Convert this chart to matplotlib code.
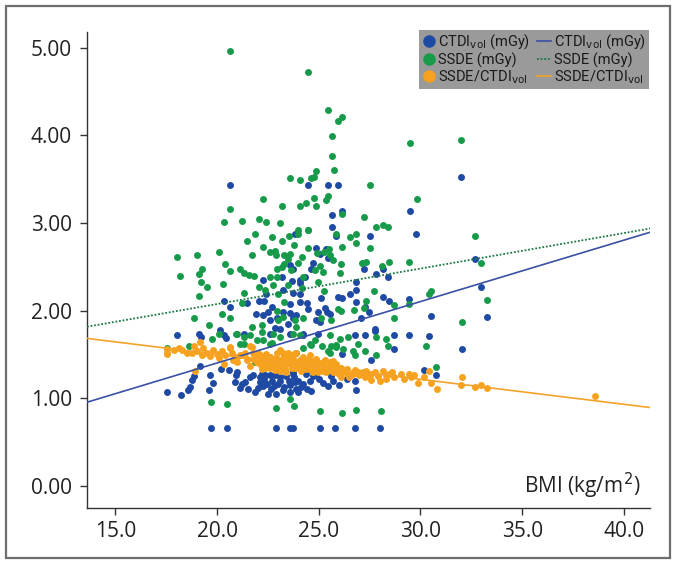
import matplotlib
matplotlib.use("Agg")
import matplotlib.pyplot as plt
from matplotlib.lines import Line2D
from matplotlib.patches import Rectangle

# ---------------- data ----------------
ctdi_pts = [
    (20.61,3.44),(24.48,3.44),(25.45,3.44),(25.94,3.44),(26.14,3.14),(25.63,3.09),(29.50,3.14),(25.63,2.95),
    (32.0,3.53),(32.7,2.59),(33.0,2.27),(33.26,1.93),(30.5,1.94),(30.4,1.71),(32.06,1.56),(30.78,1.26),
    (19.71,0.66),(20.49,0.66),(22.89,0.66),(23.57,0.66),(23.74,0.66),(25.04,0.66),(25.81,0.66),(26.8,0.66),(28.02,0.66),
    (22.27,2.35),(23.17,2.38),(22.40,2.19),(20.32,2.11),(20.61,2.04),(21.46,2.09),(22.08,2.11),(22.30,2.11),
    (23.25,2.23),(22.68,2.04),(22.52,1.98),(21.91,1.96),(22.27,1.95),(22.60,1.89),(22.93,1.91),(23.25,1.98),
    (20.12,1.78),(22.84,1.80),(23.08,1.79),
    (23.82,2.88),(25.86,2.85),(27.52,2.85),(29.78,2.88),(24.88,2.71),(25.34,2.70),(25.05,2.65),(25.45,2.60),
    (23.58,2.52),(24.72,2.54),(23.74,2.48),(24.64,2.47),(24.31,2.38),(23.66,2.34),(24.07,2.35),(24.07,2.31),
    (27.20,2.47),(27.82,2.42),(28.14,2.48),(28.39,2.38),(26.84,2.33),(23.74,2.20),(24.07,2.19),(26.84,2.23),
    (26.55,2.19),(25.94,2.16),(26.16,2.14),(25.13,2.14),(28.14,2.16),(28.44,2.11),(29.42,2.13),(26.84,2.10),
    (24.43,2.09),(23.58,2.08),(24.07,2.10),(24.48,2.02),(25.29,2.03),(25.40,1.98),(25.54,1.96),(24.96,1.98),
    (27.25,2.04),(27.46,1.98),(23.58,1.97),(23.87,1.95),(23.74,1.91),(24.85,1.89),(25.05,1.87),(27.08,1.92),
    (27.74,1.79),(23.50,1.85),
    (18.03,1.72),(19.09,1.73),(19.21,1.70),(20.35,1.72),(20.45,1.69),(19.14,1.37),(20.19,1.33),(20.56,1.32),
    (18.88,1.25),(18.77,1.21),(19.63,1.26),(19.80,1.17),(18.65,1.13),(18.56,1.09),(17.54,1.07),(18.23,1.04),
    (19.58,1.09),(20.94,1.26),(20.89,1.19),(21.21,1.16),(21.38,1.18),(21.10,1.12),(21.62,1.24),(21.75,1.27),
    (21.87,1.07),(22.19,1.28),(22.36,1.26),(22.11,1.18),(22.44,1.16),(22.68,1.20),(22.85,1.26),(22.27,1.14),
    (22.63,1.11),(23.01,1.16),(23.25,1.09),
    (23.58,1.73),(24.23,1.72),(24.96,1.73),(26.76,1.72),(27.25,1.72),(27.74,1.77),(28.72,1.72),(29.42,1.72),
    (28.72,1.56),(26.16,1.50),(27.57,1.43),(30.18,1.32),(23.74,1.28),(24.39,1.28),(24.88,1.28),(25.70,1.20),
    (25.45,1.14),(24.23,1.16),(23.82,1.18),(23.90,1.11),(23.58,1.07),(23.99,1.07),(26.76,1.20),(26.81,1.09),
    (24.56,1.20),(23.55,1.20),
    (22.11,1.24),(22.60,1.26),(23.09,1.24),(23.74,1.30),(21.30,1.73),(22.60,1.73),(24.23,1.73),
    (22.0,1.12),(22.3,1.22),(22.5,1.05),(22.8,1.14),(23.1,1.20),(23.3,1.13),(23.4,1.25),(23.6,1.15),
    (23.8,1.24),(24.0,1.20),(24.1,1.13),(24.4,1.10),(24.7,1.25),(25.0,1.22),(25.2,1.17),(25.6,1.25),
    (26.0,1.15),(26.4,1.22),(21.5,1.10),(21.0,1.30),(22.9,1.05),(24.6,1.08),
]
ssde_pts = [
    (20.61,4.97),(24.48,4.73),(25.45,4.29),(25.94,4.16),(26.14,4.21),(25.65,3.99),(29.50,3.91),(25.65,3.76),
    (25.75,3.61),(24.85,3.59),(23.58,3.51),(24.07,3.49),(24.64,3.51),(24.77,3.52),(27.53,3.43),(24.75,3.29),
    (25.45,3.31),(25.34,3.26),(24.07,3.20),(24.36,3.23),(24.88,3.20),(29.81,3.27),(26.14,3.10),(27.23,3.07),
    (27.82,2.96),(28.14,2.98),(28.42,2.96),(23.99,2.92),(24.48,2.92),
    (22.27,3.28),(20.61,3.16),(23.17,3.20),(20.32,3.01),(21.21,3.02),(22.08,3.05),(22.39,3.01),(23.09,3.00),
    (32.0,3.95),(32.7,2.85),(33.0,2.54),(33.26,2.12),(30.5,2.22),(30.4,2.19),(32.06,1.87),(30.26,1.59),(30.78,1.36),
    (21.88,2.87),(21.49,2.80),(22.68,2.84),(23.17,2.80),(22.27,2.73),(18.03,2.61),(19.03,2.64),(20.10,2.67),
    (21.70,2.63),(22.60,2.67),(22.84,2.68),(22.89,2.64),(23.28,2.63),(20.39,2.53),(23.28,2.53),(18.19,2.39),
    (19.12,2.42),(19.24,2.47),(20.61,2.45),(21.10,2.47),(21.31,2.43),(21.59,2.41),(21.81,2.39),(19.21,2.33),
    (19.51,2.27),(20.29,2.30),(22.08,2.27),(22.60,2.38),(22.96,2.38),(22.96,2.47),(23.17,2.50),(22.35,2.24),
    (22.76,2.29),(19.12,2.17),(21.30,2.20),(21.21,2.09),(23.00,2.19),(23.28,2.10),(18.85,1.91),(19.60,1.84),
    (20.22,1.96),(20.61,1.91),(21.70,1.81),(22.19,1.84),(23.00,1.89),(22.96,2.00),(23.25,1.93),
    (23.55,2.85),(23.99,2.87),(24.48,2.92),(25.83,2.87),(26.55,2.84),(26.84,2.87),(26.84,2.77),(23.77,2.75),
    (24.48,2.72),(26.16,2.73),(27.52,2.72),(23.58,2.65),(23.50,2.59),(24.15,2.61),(25.24,2.67),(25.50,2.70),
    (25.57,2.64),(24.92,2.66),(25.70,2.58),(23.61,2.46),(23.99,2.54),(24.23,2.38),(24.80,2.46),(25.05,2.51),
    (25.21,2.44),(26.11,2.53),(26.02,2.43),(27.13,2.54),(27.33,2.55),(28.11,2.51),(28.44,2.55),(29.42,2.56),
    (24.96,2.33),(23.50,2.29),(24.15,2.26),(25.24,2.22),(27.69,2.22),(27.30,2.11),(26.74,2.01),(25.94,2.02),
    (26.11,1.99),(27.20,2.03),(28.72,2.06),(29.42,2.07),(23.82,1.89),(24.23,1.92),(25.13,1.91),(25.62,1.89),
    (28.72,1.91),(23.90,1.81),
    (19.75,1.68),(20.07,1.73),(20.94,1.73),(21.30,1.70),(21.62,1.72),(22.19,1.75),(22.76,1.73),(23.09,1.70),
    (22.27,1.66),(22.68,1.63),(17.54,1.57),(18.60,1.59),(21.13,1.62),(21.87,1.41),(19.71,0.96),(20.50,0.93),
    (22.89,0.89),
    (23.74,1.73),(24.07,1.72),(25.54,1.72),(26.02,1.68),(26.43,1.70),(26.92,1.62),(27.82,1.70),(28.31,1.68),
    (28.39,1.59),(25.18,1.59),(25.62,1.60),(25.83,1.61),(24.64,1.61),(25.45,1.54),(26.19,1.56),(26.68,1.54),
    (26.76,1.49),(27.25,1.54),(27.82,1.49),(24.20,1.57),(23.58,0.99),(23.77,0.91),(25.05,0.85),(26.16,0.83),
    (26.81,0.86),(28.05,0.85),
    (20.97,1.73),(21.30,1.62),(21.95,1.66),(22.60,1.62),(23.90,1.51),(24.56,1.62),(24.80,1.66),(25.54,1.51),(25.86,1.58),
]
ratio_pts = [
    (17.54,1.56),(17.54,1.50),(38.6,1.02),
    (30.4,1.31),(30.5,1.17),(30.8,1.11),(32.06,1.24),(32.0,1.15),(32.7,1.13),(33.0,1.15),(33.26,1.12),
    (17.54,1.51),(18.12,1.57),(18.28,1.55),(18.85,1.60),(19.01,1.54),(19.14,1.64),(19.26,1.49),(18.77,1.52),
    (19.50,1.51),(19.66,1.48),(19.99,1.50),(20.24,1.54),(20.40,1.49),(20.61,1.57),(20.72,1.51),(20.32,1.39),
    (20.97,1.41),(21.21,1.49),(21.38,1.52),(21.46,1.43),(21.70,1.58),(21.78,1.45),(21.95,1.41),(22.11,1.49),
    (22.27,1.43),(22.44,1.39),(22.60,1.47),(22.76,1.41),(22.93,1.37),(23.09,1.44),(23.25,1.39),(18.93,1.31),
    (22.36,1.35),(22.11,1.39),(22.84,1.32),(23.33,1.33),
    (23.50,1.51),(28.31,1.26),(28.72,1.24),(29.45,1.28),(29.53,1.24),(29.86,1.17),(30.18,1.24),(28.0,1.20),
    (27.57,1.28),(27.17,1.30),(26.76,1.32),(26.43,1.28),(26.02,1.35),(25.70,1.37),(25.21,1.39),(24.88,1.43),
    (24.56,1.41),(24.23,1.39),(23.90,1.41),(23.66,1.37),(24.39,1.33),(25.05,1.33),(25.37,1.30),(25.86,1.30),
    (26.27,1.32),(26.60,1.26),(26.92,1.30),(27.33,1.31),(27.74,1.30),(28.14,1.31),(28.47,1.28),(29.04,1.28),
    (24.72,1.35),(25.54,1.41),(24.15,1.45),(23.58,1.43),(23.82,1.35),(26.11,1.24),(27.25,1.24),(27.57,1.21),
    (24.96,1.30),
    (20.64,1.58),(21.62,1.60),(21.78,1.51),(22.11,1.49),(22.60,1.47),(22.93,1.52),(23.25,1.51),(23.74,1.45),
    (23.90,1.51),(24.23,1.47),(24.56,1.49),(24.88,1.45),(25.21,1.41),(25.54,1.39),(25.86,1.39),(26.11,1.35),
    (21.95,1.41),(22.27,1.39),(22.60,1.35),(22.93,1.41),(23.25,1.35),(23.58,1.39),(23.90,1.35),(24.23,1.37),
    (24.56,1.33),(24.88,1.35),(25.21,1.31),(25.70,1.30),(23.09,1.31),(22.44,1.45),(22.76,1.41),(21.46,1.45),
    (21.13,1.49),(23.42,1.45),(24.07,1.43),(24.40,1.41),(24.72,1.39),(25.05,1.37),(25.37,1.35),
    (21.9,1.47),(22.2,1.33),(22.4,1.50),(22.5,1.42),(22.7,1.36),(22.9,1.46),(23.0,1.33),(23.2,1.42),
    (23.3,1.48),(23.4,1.30),(23.5,1.40),(23.6,1.47),(23.7,1.34),(23.8,1.42),(24.0,1.38),(24.1,1.31),
    (24.3,1.43),(24.4,1.35),(24.5,1.45),(24.6,1.37),(24.7,1.30),(24.8,1.41),(25.0,1.40),(25.1,1.35),
    (25.3,1.44),(25.4,1.32),(25.6,1.35),(25.7,1.42),(25.9,1.33),(26.0,1.28),(26.2,1.30),(26.4,1.33),
    (26.5,1.24),(26.7,1.28),(27.0,1.26),(27.4,1.27),(27.9,1.25),(28.3,1.22),(28.6,1.30),(29.2,1.22),
    (29.7,1.26),(21.0,1.47),(20.8,1.44),(20.1,1.46),(19.8,1.55),(19.3,1.57),(18.5,1.52),(17.9,1.55),
    (21.6,1.37),(22.0,1.52),(23.1,1.55),(23.8,1.50),
]

ctdi_bmi = [p[0] for p in ctdi_pts]; ctdi_val = [p[1] for p in ctdi_pts]
ssde_bmi = [p[0] for p in ssde_pts]; ssde_val = [p[1] for p in ssde_pts]
ratio_bmi = [p[0] for p in ratio_pts]; ratio_val = [p[1] for p in ratio_pts]

# regression lines: (intercept, slope)
fit_ctdi = (0.0, 0.0701)
fit_ssde = (1.265, 0.0405)
fit_ratio = (2.07, -0.0285)

x_ticks = [15.0, 20.0, 25.0, 30.0, 35.0, 40.0]
y_ticks = [0.0, 1.0, 2.0, 3.0, 4.0, 5.0]
x_range = (13.6, 41.3)
y_range = (-0.25, 5.18)

c_blue = "#1f4aa3"
c_green = "#179a4a"
c_orange = "#f7a21e"
c_blue_line = "#3a50a6"
c_green_line = "#1a7a45"
c_orange_line = "#f4a229"

plt.rcParams['font.family'] = ['Open Sans', 'DejaVu Sans']

fig = plt.figure(figsize=(6.77, 5.64), dpi=100)
ax = fig.add_axes([0.1285, 0.100, 0.832, 0.843])

fig.patches.append(Rectangle((0.009, 0.01), 0.981, 0.98, transform=fig.transFigure,
                             fill=False, edgecolor="#6e6e6e", linewidth=1.6))

ms = 25
ax.scatter(ctdi_bmi, ctdi_val, s=ms, color=c_blue, linewidths=0, zorder=2)
ax.scatter(ssde_bmi, ssde_val, s=ms, color=c_green, linewidths=0, zorder=2)
ax.scatter(ratio_bmi, ratio_val, s=ms, color=c_orange, linewidths=0, zorder=3)

xs = list(x_range)
ax.plot(xs, [fit_ctdi[0] + fit_ctdi[1] * x for x in xs], color=c_blue_line, lw=1.2, zorder=4)
ax.plot(xs, [fit_ssde[0] + fit_ssde[1] * x for x in xs], color=c_green_line, lw=1.3,
        linestyle=(0, (1, 1)), zorder=4)
ax.plot(xs, [fit_ratio[0] + fit_ratio[1] * x for x in xs], color=c_orange_line, lw=1.2, zorder=4)

ax.set_xlim(*x_range)
ax.set_ylim(*y_range)
ax.set_xticks(x_ticks)
ax.set_xticklabels([f"{v:.1f}" for v in x_ticks])
ax.set_yticks(y_ticks)
ax.set_yticklabels([f"{v:.2f}" for v in y_ticks])
for s in ["top", "right"]:
    ax.spines[s].set_visible(False)
for s in ["left", "bottom"]:
    ax.spines[s].set_color("#333333")
    ax.spines[s].set_linewidth(1.0)
ax.tick_params(axis="both", labelsize=15, color="#333333", length=5, width=1, labelcolor="#222222")
ax.tick_params(axis="x", pad=5)
ax.tick_params(axis="y", pad=6)

ax.text(0.982, 0.045, "BMI (kg/m$^2$)", transform=ax.transAxes, ha="right", va="center",
        fontsize=15, color="#222222")

handles = [
    Line2D([], [], marker="o", linestyle="none", color=c_blue, markersize=8),
    Line2D([], [], marker="o", linestyle="none", color=c_green, markersize=8),
    Line2D([], [], marker="o", linestyle="none", color=c_orange, markersize=8),
    Line2D([], [], color=c_blue_line, lw=1.2),
    Line2D([], [], color=c_green_line, lw=1.3, linestyle=(0, (1, 1))),
    Line2D([], [], color=c_orange_line, lw=1.2),
]
labels = [r"CTDI$_{\mathrm{vol}}$ (mGy)", "SSDE (mGy)", r"SSDE/CTDI$_{\mathrm{vol}}$",
          r"CTDI$_{\mathrm{vol}}$ (mGy)", "SSDE (mGy)", r"SSDE/CTDI$_{\mathrm{vol}}$"]
leg = ax.legend(handles, labels, ncol=2, loc="upper right", bbox_to_anchor=(0.997, 1.005),
                frameon=True, fancybox=False, facecolor="#9a9a9a", edgecolor="none", framealpha=1,
                prop={"family": ["Roboto", "DejaVu Sans"], "size": 10.5},
                handlelength=1.0, handletextpad=0.15, columnspacing=0.45,
                labelspacing=0.05, borderpad=0.2, borderaxespad=0.0)
for t in leg.get_texts():
    t.set_color("#1a1a1a")

fig.savefig("out.png", dpi=100)
